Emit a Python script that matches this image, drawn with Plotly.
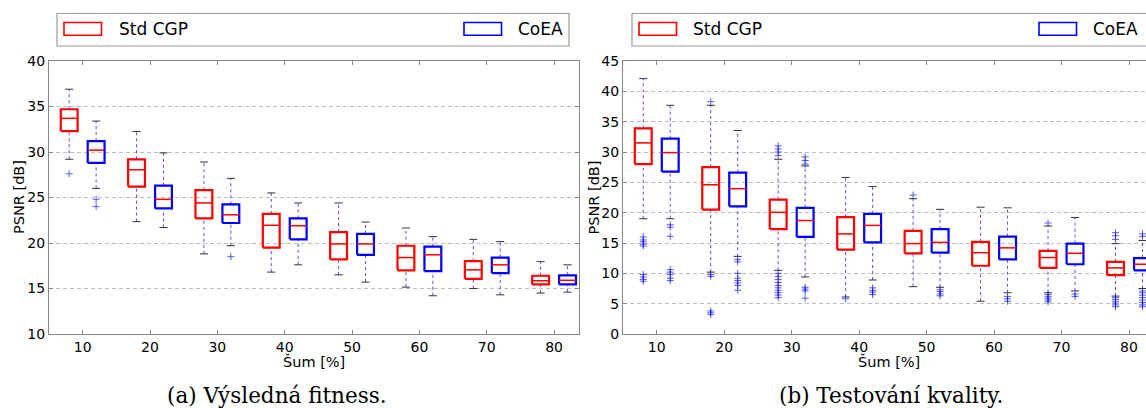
import plotly.graph_objects as go

W, H = 1146, 408

cats = [10, 20, 30, 40, 50, 60, 70, 80]
tick_labels = ["10", "20", "30", "40", "50", "60", "70", "80"]
series_names = ["Std CGP", "CoEA"]

# ---- panel (a): Výsledná fitness ----
a_std_hi = [36.9, 32.25, 28.9, 25.5, 24.4, 21.65, 20.4, 17.95]
a_std_q3 = [34.7, 29.2, 25.8, 23.2, 21.2, 19.7, 18.0, 16.4]
a_std_med = [33.7, 28.05, 24.4, 21.95, 19.9, 18.4, 17.05, 15.85]
a_std_q1 = [32.3, 26.2, 22.7, 19.5, 18.2, 17.0, 16.05, 15.45]
a_std_lo = [29.2, 22.35, 18.8, 16.8, 16.5, 15.15, 15.0, 14.5]
a_std_out = [[27.6], [], [], [], [], [], [], []]

a_coea_hi = [33.4, 29.9, 27.1, 24.4, 22.3, 20.7, 20.15, 17.6]
a_coea_q3 = [31.2, 26.3, 24.25, 22.7, 21.0, 19.6, 18.4, 16.45]
a_coea_med = [30.2, 24.8, 23.1, 21.9, 19.9, 18.7, 17.6, 15.9]
a_coea_q1 = [28.8, 23.8, 22.2, 20.4, 18.7, 16.9, 16.7, 15.45]
a_coea_lo = [26.0, 21.7, 19.7, 17.6, 15.7, 14.2, 14.3, 14.6]
a_coea_out = [[24.8, 24.0], [], [18.5], [], [], [], [], []]

# ---- panel (b): Testování kvality ----
b_std_hi = [42.1, 37.7, 28.8, 25.8, 22.3, 20.9, 17.8, 14.9]
b_std_q3 = [33.9, 27.5, 22.15, 19.25, 17.0, 15.2, 13.7, 11.9]
b_std_med = [31.5, 24.6, 20.05, 16.5, 14.9, 13.4, 12.6, 10.9]
b_std_q1 = [28.0, 20.5, 17.3, 13.9, 13.3, 11.25, 10.9, 9.7]
b_std_lo = [19.0, 10.2, 10.5, 6.1, 7.8, 5.4, 6.8, 6.25]
b_std_out = [
    [16.0, 15.5, 15.2, 14.8, 14.5, 9.8, 9.4, 9.0, 8.7],
    [38.3, 9.8, 9.5, 3.8, 3.5, 3.2],
    [31.0, 30.5, 30.0, 29.4, 10.0, 9.5, 9.0, 8.5, 8.0, 7.6, 7.2, 6.8, 6.4, 6.0],
    [5.8],
    [22.9],
    [],
    [18.3, 6.5, 6.2, 5.9, 5.6, 5.3],
    [16.7, 16.2, 15.6, 6.0, 5.7, 5.4, 5.1, 4.8, 4.5],
]

b_coea_hi = [37.7, 33.55, 27.7, 24.3, 20.55, 20.8, 19.2, 15.4]
b_coea_q3 = [32.2, 26.6, 20.8, 19.8, 17.3, 16.05, 14.9, 12.5]
b_coea_med = [29.9, 23.95, 18.7, 17.9, 15.1, 14.2, 13.3, 11.5]
b_coea_q1 = [26.75, 21.05, 16.0, 15.1, 13.4, 12.3, 11.5, 10.5]
b_coea_lo = [19.0, 12.8, 9.4, 8.9, 7.7, 6.8, 7.1, 7.5]
b_coea_out = [
    [18.0, 17.6, 16.1, 10.6, 10.2, 9.8, 9.2, 8.8],
    [12.3, 11.9, 10.0, 9.2, 8.8, 8.4, 8.0, 7.2],
    [29.2, 28.6, 28.0, 7.7, 7.4, 7.1, 5.9],
    [7.6, 7.2, 6.9, 6.5],
    [7.3, 7.0, 6.6, 6.3],
    [6.2, 5.8, 5.4],
    [6.6, 6.2],
    [16.5, 16.1, 7.1, 6.8, 6.4, 6.0, 5.6, 5.2, 4.8, 4.5],
]

RED = "#ff0000"
BLUE = "#0000ff"
OFFSET = 2.0
HALF_W = 1.25
CAP_W = 0.6
FONT = "DejaVu Sans"


def px_x(p):
    return p / W


def px_y(p):
    return 1 - p / H


fig = go.Figure()


def add_series(xa, ya, xoff, color, q1, med, q3, lo, hi, outl):
    pos = [c + xoff for c in cats]
    # whiskers
    wx, wy = [], []
    for p, l, a, b, h in zip(pos, lo, q1, q3, hi):
        wx += [p, p, None, p, p, None]
        wy += [l, a, None, b, h, None]
    fig.add_trace(go.Scatter(x=wx, y=wy, mode="lines", xaxis=xa, yaxis=ya,
                             line=dict(color="rgba(0,0,255,0.7)", width=1, dash="3px,3px"),
                             hoverinfo="skip", showlegend=False))
    # caps
    cx, cy = [], []
    for p, l, h in zip(pos, lo, hi):
        cx += [p - CAP_W, p + CAP_W, None, p - CAP_W, p + CAP_W, None]
        cy += [l, l, None, h, h, None]
    fig.add_trace(go.Scatter(x=cx, y=cy, mode="lines", xaxis=xa, yaxis=ya,
                             line=dict(color="#333333", width=1),
                             hoverinfo="skip", showlegend=False))
    # boxes
    bx, by = [], []
    for p, a, b in zip(pos, q1, q3):
        bx += [p - HALF_W, p + HALF_W, p + HALF_W, p - HALF_W, p - HALF_W, None]
        by += [a, a, b, b, a, None]
    fig.add_trace(go.Scatter(x=bx, y=by, mode="lines", xaxis=xa, yaxis=ya,
                             line=dict(color=color, width=2.2),
                             hoverinfo="skip", showlegend=False))
    # medians
    mx, my = [], []
    for p, m in zip(pos, med):
        mx += [p - HALF_W, p + HALF_W, None]
        my += [m, m, None]
    fig.add_trace(go.Scatter(x=mx, y=my, mode="lines", xaxis=xa, yaxis=ya,
                             line=dict(color=RED, width=1.5),
                             hoverinfo="skip", showlegend=False))
    # outliers
    ox, oy = [], []
    for p, vals in zip(pos, outl):
        for v in vals:
            ox.append(p)
            oy.append(v)
    if ox:
        fig.add_trace(go.Scatter(x=ox, y=oy, mode="markers", xaxis=xa, yaxis=ya,
                                 marker=dict(symbol="cross-thin", size=5, opacity=0.65,
                                             line=dict(color=BLUE, width=1)),
                                 hoverinfo="skip", showlegend=False))


add_series("x", "y", -OFFSET, RED, a_std_q1, a_std_med, a_std_q3, a_std_lo, a_std_hi, a_std_out)
add_series("x", "y", OFFSET, BLUE, a_coea_q1, a_coea_med, a_coea_q3, a_coea_lo, a_coea_hi, a_coea_out)
add_series("x2", "y2", -OFFSET, RED, b_std_q1, b_std_med, b_std_q3, b_std_lo, b_std_hi, b_std_out)
add_series("x2", "y2", OFFSET, BLUE, b_coea_q1, b_coea_med, b_coea_q3, b_coea_lo, b_coea_hi, b_coea_out)

ydom = [px_y(334), px_y(61)]
AX = "#888888"
common_x = dict(tickvals=cats, ticktext=tick_labels, ticks="inside", ticklen=4,
                tickcolor=AX, showline=True, linecolor=AX, linewidth=1.3,
                showgrid=False, zeroline=False, automargin=False,
                tickfont=dict(family=FONT, size=14, color="black"))
common_y = dict(dtick=5, ticks="inside", ticklen=4, tickcolor=AX, showline=True,
                linecolor=AX, linewidth=1.3, showgrid=True, gridcolor="#bdbdbd",
                gridwidth=1, griddash="4px,3px", zeroline=False, automargin=False,
                tickfont=dict(family=FONT, size=14, color="black"))

fig.update_layout(
    width=W, height=H, autosize=False,
    margin=dict(l=0, r=0, t=0, b=0, pad=0),
    plot_bgcolor="white", paper_bgcolor="white",
    font=dict(family=FONT, color="black"),
    showlegend=False,
    xaxis=dict(domain=[px_x(49), px_x(579)], range=[5, 83.7], mirror="ticks",
               anchor="y", **common_x),
    yaxis=dict(domain=ydom, range=[10, 40], mirror="ticks", anchor="x", tick0=10,
               **common_y),
    xaxis2=dict(domain=[px_x(623), 1.0], range=[5, 82.52], mirror="ticks",
                anchor="y2", **common_x),
    yaxis2=dict(domain=ydom, range=[0, 45], mirror=False, anchor="x2", tick0=0,
                **common_y),
)

shapes = []
annotations = []

# legends (one per panel)
for lx0, lx1, rp0, bp0, t1, t2 in [(57, 569, 64, 464, 116.7, 516),
                                    (632, 1160, 639, 1039, 690.7, 1090.7)]:
    shapes.append(dict(type="rect", xref="paper", yref="paper",
                       x0=px_x(lx0), x1=px_x(lx1), y0=px_y(46), y1=px_y(13.5),
                       line=dict(color="#9a9a9a", width=1.2), fillcolor="rgba(0,0,0,0)"))
    shapes.append(dict(type="rect", xref="paper", yref="paper",
                       x0=px_x(rp0), x1=px_x(rp0 + 37.5), y0=px_y(35.3), y1=px_y(22.5),
                       line=dict(color=RED, width=1.6)))
    shapes.append(dict(type="rect", xref="paper", yref="paper",
                       x0=px_x(bp0), x1=px_x(bp0 + 37.5), y0=px_y(35.3), y1=px_y(22.5),
                       line=dict(color=BLUE, width=1.6)))
    annotations.append(dict(text=series_names[0], xref="paper", yref="paper",
                            x=px_x(t1), y=px_y(29.5), xanchor="left", yanchor="middle",
                            showarrow=False, font=dict(family=FONT, size=17, color="black")))
    annotations.append(dict(text=series_names[1], xref="paper", yref="paper",
                            x=px_x(t2), y=px_y(29.5), xanchor="left", yanchor="middle",
                            showarrow=False, font=dict(family=FONT, size=17, color="black")))

# axis titles
for xc in [18.5, 593]:
    annotations.append(dict(text="PSNR [dB]", xref="paper", yref="paper",
                            x=px_x(xc), y=px_y(197.5), xanchor="center", yanchor="middle",
                            textangle=-90, showarrow=False,
                            font=dict(family=FONT, size=14.5, color="black")))
for xc in [314, 889]:
    annotations.append(dict(text="Šum [%]", xref="paper", yref="paper",
                            x=px_x(xc), y=px_y(361), xanchor="center", yanchor="middle",
                            showarrow=False, font=dict(family=FONT, size=14.5, color="black")))

# captions
for xc, txt in [(277, "(a) Výsledná fitness."), (891, "(b) Testování kvality.")]:
    annotations.append(dict(text=txt, xref="paper", yref="paper",
                            x=px_x(xc), y=px_y(395), xanchor="center", yanchor="middle",
                            showarrow=False, font=dict(family="DejaVu Serif", size=21.5, color="black")))

fig.update_layout(shapes=shapes, annotations=annotations)

fig.write_html("out.html")
